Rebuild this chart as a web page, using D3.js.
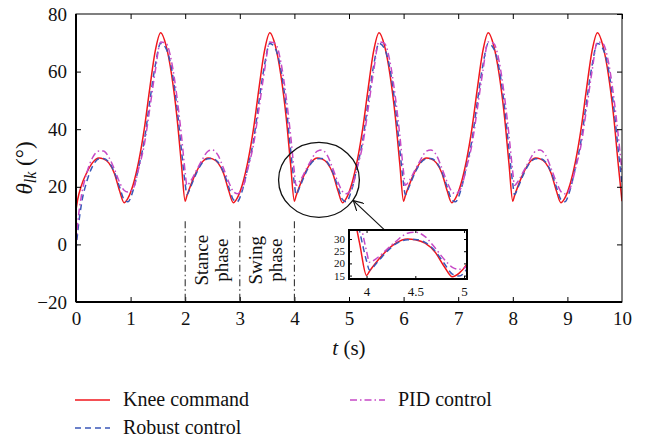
<!DOCTYPE html>
<html>
<head>
<meta charset="utf-8">
<script src="https://cdn.jsdelivr.net/npm/d3@7"></script>
<style>
body { margin: 0; background: #fff; }
text { font-family: "Liberation Serif", "DejaVu Serif", serif; fill: #111; }
</style>
</head>
<body>
<div id="chart-area"></div>
<script>
/*
*    knee angle tracking chart
*/

// time samples (s)
var times = [
	0,0.03,0.1,0.2,0.3,0.42,0.5,0.6,0.7,0.8,0.88,0.95,1.05,1.15,1.25,1.35,1.45,1.55,1.65,1.75,1.85,1.93,
	2,2.03,2.1,2.2,2.3,2.42,2.5,2.6,2.7,2.8,2.88,2.95,3.05,3.15,3.25,3.35,3.45,3.55,3.65,3.75,3.85,3.93,
	4,4.03,4.1,4.2,4.3,4.42,4.5,4.6,4.7,4.8,4.88,4.95,5.05,5.15,5.25,5.35,5.45,5.55,5.65,5.75,5.85,5.93,
	6,6.03,6.1,6.2,6.3,6.42,6.5,6.6,6.7,6.8,6.88,6.95,7.05,7.15,7.25,7.35,7.45,7.55,7.65,7.75,7.85,7.93,
	8,8.03,8.1,8.2,8.3,8.42,8.5,8.6,8.7,8.8,8.88,8.95,9.05,9.15,9.25,9.35,9.45,9.55,9.65,9.75,9.85,9.93,
	10
];

var kneeCommand = [
	12,15.5,20.5,25,28.3,30,29.7,28.3,24.8,18.5,14.5,16,21,29,40,54,67,73.5,69,59,44,28,
	15,16.8,20.5,25,28.3,30,29.7,28.3,24.8,18.5,14.5,16,21,29,40,54,67,73.5,69,59,44,28,
	15,16.8,20.5,25,28.3,30,29.7,28.3,24.8,18.5,14.5,16,21,29,40,54,67,73.5,69,59,44,28,
	15,16.8,20.5,25,28.3,30,29.7,28.3,24.8,18.5,14.5,16,21,29,40,54,67,73.5,69,59,44,28,
	15,16.8,20.5,25,28.3,30,29.7,28.3,24.8,18.5,14.5,16,21,29,40,54,67,73.5,69,59,44,28,
	15
];

var robustControl = [
	-2,4,14,22,27,29.7,29.8,28.6,25.2,19.8,15.6,14.8,19,27,36,49.5,62,69.8,68,61,47.5,33,
	21,17.3,20,24.5,28,29.7,29.8,28.6,25.2,19.8,15.6,14.8,19,27,36,49.5,62,69.8,68,61,47.5,33,
	21,17.3,20,24.5,28,29.7,29.8,28.6,25.2,19.8,15.6,14.8,19,27,36,49.5,62,69.8,68,61,47.5,33,
	21,17.3,20,24.5,28,29.7,29.8,28.6,25.2,19.8,15.6,14.8,19,27,36,49.5,62,69.8,68,61,47.5,33,
	21,17.3,20,24.5,28,29.7,29.8,28.6,25.2,19.8,15.6,14.8,19,27,36,49.5,62,69.8,68,61,47.5,33,
	21
];

var pidControl = [
	0,7,17,25,30,32.4,32.4,30.3,26.3,21.5,18.8,18.2,19.5,26.5,34.5,47,60,70.3,69.8,63.5,51,38,
	25,20.5,22,25.5,29,32.4,32.8,31,26.5,21.5,18.4,17.6,19.5,26.5,34.5,47,60,70.3,69.8,63.5,51,38,
	25,20.5,22,25.5,29,32.4,32.8,31,26.5,21.5,18.4,17.6,19.5,26.5,34.5,47,60,70.3,69.8,63.5,51,38,
	25,20.5,22,25.5,29,32.4,32.8,31,26.5,21.5,18.4,17.6,19.5,26.5,34.5,47,60,70.3,69.8,63.5,51,38,
	25,20.5,22,25.5,29,32.4,32.8,31,26.5,21.5,18.4,17.6,19.5,26.5,34.5,47,60,70.3,69.8,63.5,51,38,
	25
];

var xTicks = [0,1,2,3,4,5,6,7,8,9,10];
var yTicks = [-20,0,20,40,60,80];
var insetXTicks = [4,4.5,5];
var insetYTicks = [15,20,25,30];
var phaseLines = [2,3,4];
var phaseLabels = [["Stance","phase",2.5],["Swing","phase",3.5]];
var legendNames = ["Knee command","Robust control","PID control"];

var series = [
	{name: legendNames[0], values: kneeCommand, color: "#f0161c", dash: null},
	{name: legendNames[1], values: robustControl, color: "#3a57b8", dash: "6,4"},
	{name: legendNames[2], values: pidControl, color: "#c64ac6", dash: "7,3,1.5,3"}
];

var margin = {top: 14, right: 31, bottom: 136, left: 76};
var width = 546;
var height = 288;

var svg = d3.select("#chart-area").append("svg")
	.attr("width", 653)
	.attr("height", 438);

var g = svg.append("g")
	.attr("transform", "translate(" + margin.left + ", " + margin.top + ")");

var x = d3.scaleLinear().domain([0, 10]).range([0, width]);
var y = d3.scaleLinear().domain([-20, 80]).range([height, 0]);

var line = d3.line()
	.x((d)=>{ return x(d[0]); })
	.y((d)=>{ return y(d[1]); })
	.curve(d3.curveMonotoneX);

g.append("clipPath").attr("id", "main-clip")
	.append("rect").attr("width", width).attr("height", height);

var lines = g.append("g").attr("clip-path", "url(#main-clip)");
series.forEach((s)=>{
	lines.append("path")
		.datum(times.map((t, i)=>{ return [t, s.values[i]]; }))
		.attr("d", line)
		.attr("fill", "none")
		.attr("stroke", s.color)
		.attr("stroke-width", 1.5)
		.attr("stroke-dasharray", s.dash);
});

// frame + inward ticks
g.append("rect")
	.attr("width", width).attr("height", height)
	.attr("fill", "none").attr("stroke", "#000").attr("stroke-width", 1);
g.append("line").attr("x1", 0).attr("x2", 0).attr("y1", 0).attr("y2", height)
	.attr("stroke", "#000").attr("stroke-width", 2);
g.append("line").attr("x1", 0).attr("x2", width).attr("y1", height).attr("y2", height)
	.attr("stroke", "#000").attr("stroke-width", 2);

var bottomAxis = d3.axisBottom(x).tickValues(xTicks).tickSizeInner(-5).tickSizeOuter(0).tickPadding(10);
var gx = g.append("g").attr("transform", "translate(0, " + height + ")").call(bottomAxis);
g.append("g").call(d3.axisTop(x).tickValues(xTicks).tickSizeInner(-5).tickSizeOuter(0).tickFormat(""));

var leftAxis = d3.axisLeft(y).tickValues(yTicks).tickSizeInner(-5).tickSizeOuter(0).tickPadding(9);
var gy = g.append("g").call(leftAxis);
g.append("g").attr("transform", "translate(" + width + ",0)")
	.call(d3.axisRight(y).tickValues(yTicks).tickSizeInner(-5).tickSizeOuter(0).tickFormat(""));

g.selectAll(".domain").remove();
g.selectAll(".tick line").attr("stroke", "#000");
gx.selectAll("text").attr("font-size", "19px").attr("font-family", "Liberation Serif").attr("fill", "#111");
gy.selectAll("text").attr("font-size", "19px").attr("font-family", "Liberation Serif").attr("fill", "#111");
gx.selectAll(".tick").filter((d)=>{ return d === 0 || d === 10; }).select("line").remove();
gy.selectAll(".tick").filter((d)=>{ return d === -20 || d === 80; }).select("line").remove();

// phase markers
phaseLines.forEach((p)=>{
	g.append("line")
		.attr("x1", x(p)).attr("x2", x(p))
		.attr("y1", y(8)).attr("y2", height)
		.attr("stroke", "#333").attr("stroke-width", 1.1)
		.attr("stroke-dasharray", "7,3,1.5,3");
});
phaseLabels.forEach((p)=>{
	var t = g.append("text")
		.attr("transform", "translate(" + x(p[2]) + "," + y(-5.5) + ") rotate(-90)")
		.attr("text-anchor", "middle")
		.attr("font-size", "19px");
	t.append("tspan").attr("x", 0).attr("dy", "-0.25em").text(p[0]);
	t.append("tspan").attr("x", 0).attr("dy", "1.05em").text(p[1]);
});

// zoom circle + arrow
g.append("ellipse")
	.attr("cx", x(4.45)).attr("cy", y(22.4))
	.attr("rx", x(0.74) - x(0)).attr("ry", y(0) - y(13))
	.attr("fill", "none").attr("stroke", "#111").attr("stroke-width", 1.3);

svg.append("defs").append("marker")
	.attr("id", "arrow").attr("viewBox", "0 0 10 10")
	.attr("refX", 9).attr("refY", 5)
	.attr("markerWidth", 9).attr("markerHeight", 9)
	.attr("orient", "auto")
	.append("path").attr("d", "M0,0 L9,5 L0,10")
	.attr("fill", "none").attr("stroke", "#111").attr("stroke-width", 1.1);

g.append("line")
	.attr("x1", x(5.64)).attr("y1", y(5.2))
	.attr("x2", x(5.08)).attr("y2", y(15.2))
	.attr("stroke", "#111").attr("stroke-width", 1.2)
	.attr("marker-end", "url(#arrow)");

// inset
var inset = {left: 349, top: 230, width: 118, height: 49};
var xi = d3.scaleLinear().domain([3.82, 5.03]).range([0, inset.width]);
var yi = d3.scaleLinear().domain([13.6, 33.7]).range([inset.height, 0]);
var lineI = d3.line()
	.x((d)=>{ return xi(d[0]); })
	.y((d)=>{ return yi(d[1]); })
	.curve(d3.curveMonotoneX);

var gi = svg.append("g").attr("transform", "translate(" + inset.left + "," + inset.top + ")");
gi.append("rect").attr("width", inset.width).attr("height", inset.height).attr("fill", "#fff");
gi.append("clipPath").attr("id", "inset-clip")
	.append("rect").attr("width", inset.width).attr("height", inset.height);
var li = gi.append("g").attr("clip-path", "url(#inset-clip)");
series.forEach((s)=>{
	li.append("path")
		.datum(times.map((t, i)=>{ return [t, s.values[i]]; }))
		.attr("d", lineI)
		.attr("fill", "none")
		.attr("stroke", s.color)
		.attr("stroke-width", 1.5)
		.attr("stroke-dasharray", s.dash);
});
gi.append("rect").attr("width", inset.width).attr("height", inset.height)
	.attr("fill", "none").attr("stroke", "#000").attr("stroke-width", 2);

var gix = gi.append("g").attr("transform", "translate(0," + inset.height + ")")
	.call(d3.axisBottom(xi).tickValues(insetXTicks).tickSizeInner(-3).tickSizeOuter(0)
		.tickPadding(8).tickFormat(d3.format("")));
gi.append("g").call(d3.axisTop(xi).tickValues(insetXTicks).tickSizeInner(-3).tickSizeOuter(0).tickFormat(""));
var giy = gi.append("g")
	.call(d3.axisLeft(yi).tickValues(insetYTicks).tickSizeInner(-3).tickSizeOuter(0).tickPadding(4));
gi.append("g").attr("transform", "translate(" + inset.width + ",0)")
	.call(d3.axisRight(yi).tickValues(insetYTicks).tickSizeInner(-3).tickSizeOuter(0).tickFormat(""));
gi.selectAll(".domain").remove();
gi.selectAll(".tick line").attr("stroke", "#000");
gix.selectAll("text").attr("font-size", "13px").attr("font-family", "Liberation Serif").attr("fill", "#111");
giy.selectAll("text").attr("font-size", "11px").attr("font-family", "Liberation Serif").attr("fill", "#111");

// axis labels
var yLab = svg.append("text")
	.attr("transform", "translate(32, 168) rotate(-90)")
	.attr("text-anchor", "middle")
	.attr("font-size", "23px");
yLab.append("tspan").attr("font-style", "italic").text("θ");
yLab.append("tspan").attr("font-style", "italic").attr("font-size", "16px").attr("dy", "4").text("lk");
yLab.append("tspan").attr("dy", "-4").text(" (°)");

var xLab = svg.append("text")
	.attr("x", margin.left + width / 2)
	.attr("y", 355)
	.attr("text-anchor", "middle")
	.attr("font-size", "21px");
xLab.append("tspan").attr("font-style", "italic").text("t");
xLab.append("tspan").text(" (s)");

// legend
var legendPos = [[75, 400], [75, 428], [350, 400]];
series.forEach((s, i)=>{
	var lg = svg.append("g").attr("transform", "translate(" + legendPos[i][0] + "," + legendPos[i][1] + ")");
	lg.append("line")
		.attr("x1", 0).attr("x2", 35)
		.attr("stroke", s.color).attr("stroke-width", 1.5)
		.attr("stroke-dasharray", s.dash);
	lg.append("text")
		.attr("x", 48).attr("y", 6)
		.attr("font-size", "20px")
		.text(s.name);
});
</script>
</body>
</html>
